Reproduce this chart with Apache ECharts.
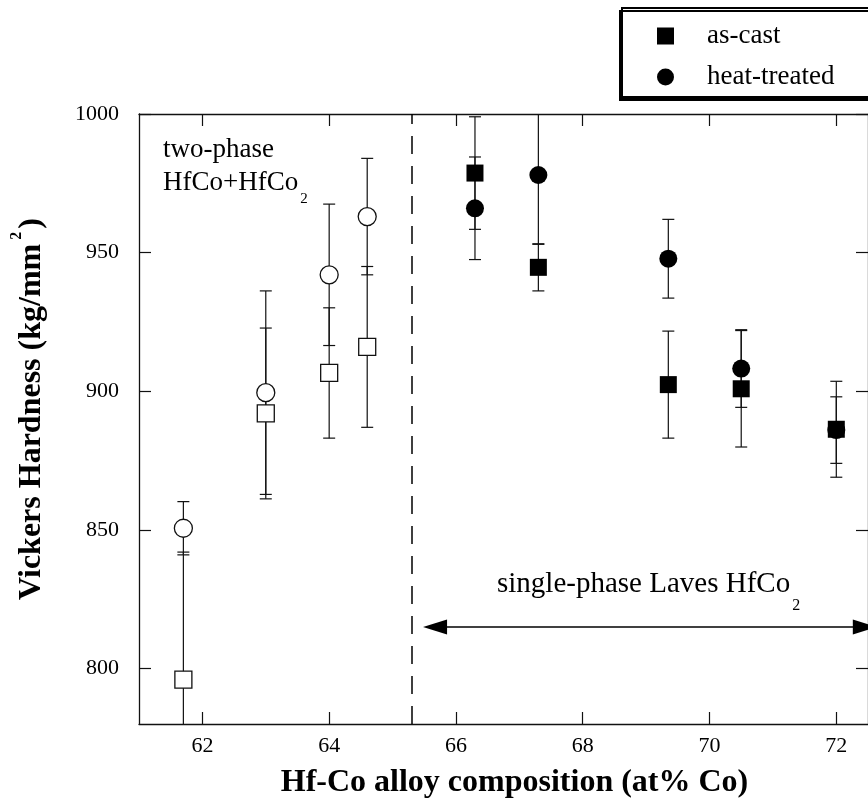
<!DOCTYPE html>
<html>
<head>
<meta charset="utf-8">
<script src="https://cdn.jsdelivr.net/npm/echarts@6/dist/echarts.min.js"></script>
<style>
html, body { margin: 0; padding: 0; background: #fff; }
#chart { width: 868px; height: 804px; }
</style>
</head>
<body>
<div id="chart"></div>
<script>
// alloy composition (at% Co)
const composition = [61.7, 63.0, 64.0, 64.6, 66.3, 67.3, 69.35, 70.5, 72.0];
// as-cast hardness and error (kg/mm2)
const castHardness = [796, 892, 906.6, 916, 978.7, 944.7, 902.4, 900.9, 886.3];
const castError = [46, 30.8, 23.5, 29, 20.3, 8.5, 19.3, 21, 17.3];
// heat-treated hardness and error
const heatHardness = [850.6, 899.5, 942, 963, 966, 978, 947.8, 908.2, 886];
const heatError = [9.6, 36.7, 25.5, 21, 18.5, 25, 14.2, 14, 12];
const xTicks = [62, 64, 66, 68, 70, 72];
const yTicks = [800, 850, 900, 950, 1000];
const phaseBoundary = 65.3;          // dashed line
const lavesArrowX = [65.67, 72.45];  // single-phase arrow
const lavesArrowY = 815;

const FONT = "'Liberation Serif', 'Times New Roman', serif";
const INK = '#111';

let chart = echarts.init(document.getElementById('chart'));

function points(hardness) {
    return composition.map(function (x, i) {
        let p = { value: [x, hardness[i]] };
        if (x < phaseBoundary) {
            // two-phase alloys are drawn with open symbols
            p.itemStyle = { color: '#fff', borderColor: INK, borderWidth: 1.3, opacity: 1 };
        }
        return p;
    });
}

function bars(hardness, err) {
    return composition.map(function (x, i) {
        return [x, hardness[i] - err[i], hardness[i] + err[i]];
    });
}

function renderErrorBar(params, api) {
    let cs = params.coordSys;
    let top = api.coord([api.value(0), api.value(2)]);
    let bottom = api.coord([api.value(0), api.value(1)]);
    let x = top[0];
    let y1 = Math.max(top[1], cs.y);
    let y2 = Math.min(bottom[1], cs.y + cs.height);
    let style = { stroke: INK, lineWidth: 1.2 };
    let children = [{ type: 'line', shape: { x1: x, y1: y1, x2: x, y2: y2 }, style: style }];
    if (top[1] >= cs.y) {
        children.push({ type: 'line', shape: { x1: x - 6, y1: top[1], x2: x + 6, y2: top[1] }, style: style });
    }
    if (bottom[1] <= cs.y + cs.height) {
        children.push({ type: 'line', shape: { x1: x - 6, y1: bottom[1], x2: x + 6, y2: bottom[1] }, style: style });
    }
    return { type: 'group', children: children };
}

let axisLine = { show: true, onZero: false, lineStyle: { color: INK, width: 1.3 } };
let tick = function (values) {
    return { show: true, inside: true, length: 12, customValues: values, lineStyle: { color: INK, width: 1.2 } };
};

let option = {
    animation: false,
    backgroundColor: '#fff',
    grid: { left: 139, top: 114, right: -8, bottom: 78, containLabel: false },
    legend: {
        data: ['as-cast', 'heat-treated'],
        orient: 'vertical',
        left: 622,
        top: 8,
        padding: [14, 80, 6, 35],
        itemWidth: 17,
        itemHeight: 17,
        itemGap: 13,
        backgroundColor: '#fff',
        borderColor: '#000',
        borderWidth: 2,
        shadowColor: '#000',
        shadowBlur: 0,
        shadowOffsetX: -2,
        shadowOffsetY: 3,
        itemStyle: { opacity: 1 },
        textStyle: { fontFamily: FONT, fontSize: 27, color: '#000', lineHeight: 28, padding: [0, 0, 0, 28] }
    },
    xAxis: [
        {
            type: 'value', min: 61, max: 72.5,
            axisLine: axisLine, axisTick: tick(xTicks), splitLine: { show: false },
            axisLabel: { customValues: xTicks, margin: 11, fontFamily: FONT, fontSize: 22, color: '#000' },
            name: 'Hf-Co alloy composition (at% Co)',
            nameLocation: 'middle',
            nameGap: 43,
            nameTextStyle: {
                fontFamily: FONT, fontSize: 32, fontWeight: 'bold', color: '#000', lineHeight: 32,
                padding: [0, 0, 0, 22]
            }
        },
        {
            type: 'value', position: 'top', min: 61, max: 72.5,
            axisLine: axisLine, axisTick: tick(xTicks), splitLine: { show: false },
            axisLabel: { show: false }
        }
    ],
    yAxis: [
        {
            type: 'value', min: 780, max: 1000,
            axisLine: axisLine, axisTick: tick(yTicks), splitLine: { show: false },
            axisLabel: {
                customValues: yTicks, margin: 20, fontFamily: FONT, fontSize: 22, color: '#000',
                formatter: function (v) { return String(v); }
            },
            name: '{m|Vickers Hardness (kg/mm}{s|2}{m|)}',
            nameLocation: 'middle',
            nameRotate: 90,
            nameGap: 91,
            nameTextStyle: {
                padding: [0, 0, 0, 20],
                rich: {
                    m: { fontFamily: FONT, fontSize: 32, fontWeight: 'bold', color: '#000', verticalAlign: 'top', padding: [7, 0, 0, 0] },
                    s: { fontFamily: FONT, fontSize: 16, fontWeight: 'bold', color: '#000', verticalAlign: 'top', padding: [0, 3, 0, 4] }
                }
            }
        },
        {
            type: 'value', position: 'right', min: 780, max: 1000,
            axisLine: axisLine, axisTick: tick(yTicks), splitLine: { show: false },
            axisLabel: { show: false }
        }
    ],
    graphic: [
        {
            type: 'text', left: 163, top: 136,
            style: { text: 'two-phase', font: '27px ' + FONT, fill: '#000' }
        },
        {
            type: 'text', left: 163, top: 169,
            style: {
                text: '{m|HfCo+HfCo}{s|2}',
                rich: {
                    m: { fontFamily: FONT, fontSize: 27, verticalAlign: 'top' },
                    s: { fontFamily: FONT, fontSize: 15, verticalAlign: 'top', padding: [23, 0, 0, 2] }
                }
            }
        },
        {
            type: 'text', left: 497, top: 570,
            style: {
                text: '{m|single-phase Laves HfCo}{s|2}',
                rich: {
                    m: { fontFamily: FONT, fontSize: 29, verticalAlign: 'top' },
                    s: { fontFamily: FONT, fontSize: 16, verticalAlign: 'top', padding: [28, 0, 0, 2] }
                }
            }
        }
    ],
    series: [
        {
            name: 'error bars',
            type: 'custom',
            renderItem: renderErrorBar,
            data: bars(heatHardness, heatError).concat(bars(castHardness, castError)),
            silent: true,
            z: 2,
            markLine: {
                silent: true,
                animation: false,
                label: { show: false },
                data: [
                    [{ coord: [phaseBoundary, 780], symbol: 'none' }, { coord: [phaseBoundary, 1000], symbol: 'none' }],
                    [{ coord: [lavesArrowX[0], lavesArrowY] }, { coord: [lavesArrowX[1], lavesArrowY] }]
                ],
                symbol: ['triangle', 'triangle'],
                symbolSize: [15, 24],
                lineStyle: { color: '#000', width: 1.5, type: 'solid' }
            }
        },
        {
            name: 'heat-treated',
            type: 'scatter',
            symbol: 'circle',
            symbolSize: 18,
            itemStyle: { color: '#000', opacity: 1 },
            data: points(heatHardness),
            silent: true,
            z: 3
        },
        {
            name: 'as-cast',
            type: 'scatter',
            symbol: 'rect',
            symbolSize: 17,
            itemStyle: { color: '#000', opacity: 1 },
            data: points(castHardness),
            silent: true,
            z: 4
        }
    ]
};

// the phase boundary is dashed
option.series[0].markLine.data[0][0].lineStyle = { type: [18, 12], width: 1.5, color: '#000' };

chart.setOption(option);
</script>
</body>
</html>
